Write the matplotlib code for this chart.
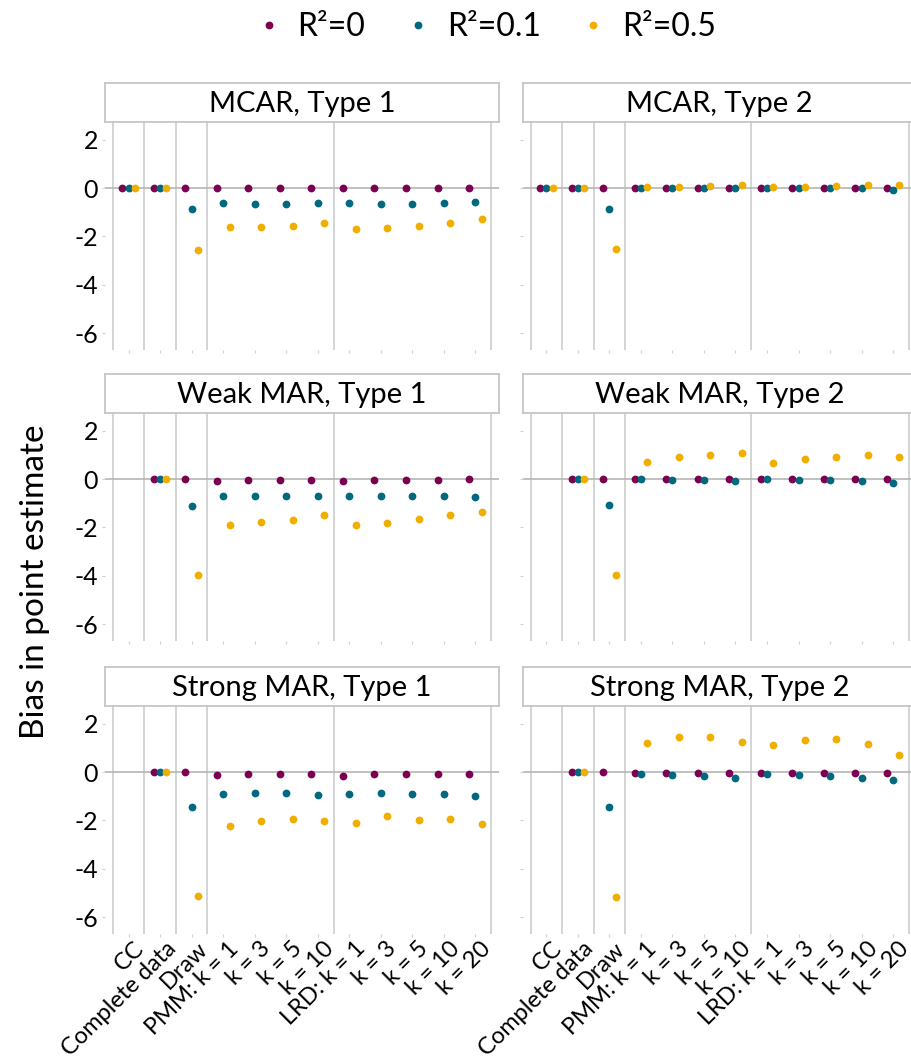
import numpy as np
import matplotlib.pyplot as plt
import matplotlib.transforms as mtransforms
from matplotlib.lines import Line2D

plt.rcParams['font.family'] = ['Lato', 'DejaVu Sans']
plt.rcParams['axes.unicode_minus'] = False

methods = ['CC', 'Complete data', 'Draw',
           'PMM: k = 1', 'k = 3', 'k = 5', 'k = 10',
           'LRD: k = 1', 'k = 3', 'k = 5', 'k = 10', 'k = 20']
r2_labels = ['R²=0', 'R²=0.1', 'R²=0.5']
colors = ['#7b0051', '#00687f', '#efae00']
titles = ['MCAR, Type 1', 'MCAR, Type 2',
          'Weak MAR, Type 1', 'Weak MAR, Type 2',
          'Strong MAR, Type 1', 'Strong MAR, Type 2']
nan = np.nan

# bias per method, one list per R^2 level (CC not available under MAR)
mcar1_r0 = [0, 0, 0, 0, 0, 0, 0, 0, 0, 0, 0, 0]
mcar1_r01 = [0, 0, -0.87, -0.63, -0.65, -0.65, -0.62, -0.62, -0.65, -0.65, -0.62, -0.59]
mcar1_r05 = [0, 0, -2.55, -1.63, -1.63, -1.56, -1.43, -1.69, -1.64, -1.57, -1.43, -1.29]

mcar2_r0 = [0, 0, 0, 0, 0, 0, 0, 0, 0, 0, 0, 0]
mcar2_r01 = [0, 0, -0.85, 0, 0, 0, -0.01, 0, 0, 0, -0.01, -0.07]
mcar2_r05 = [0, 0, -2.53, 0.03, 0.06, 0.08, 0.12, 0.04, 0.06, 0.08, 0.11, 0.12]

weak1_r0 = [nan, 0, 0, -0.08, -0.06, -0.06, -0.03, -0.08, -0.06, -0.04, -0.03, -0.01]
weak1_r01 = [nan, 0, -1.10, -0.72, -0.72, -0.72, -0.72, -0.69, -0.72, -0.72, -0.72, -0.73]
weak1_r05 = [nan, 0, -3.99, -1.92, -1.78, -1.69, -1.47, -1.92, -1.82, -1.67, -1.50, -1.36]

weak2_r0 = [nan, 0, 0, 0, 0, 0, -0.01, 0, 0, 0, -0.01, -0.01]
weak2_r01 = [nan, 0, -1.09, -0.01, -0.03, -0.06, -0.10, -0.01, -0.03, -0.06, -0.10, -0.15]
weak2_r05 = [nan, 0, -3.97, 0.72, 0.90, 0.99, 1.06, 0.65, 0.84, 0.92, 0.98, 0.90]

strong1_r0 = [nan, 0, 0.01, -0.14, -0.10, -0.08, -0.07, -0.15, -0.10, -0.08, -0.07, -0.07]
strong1_r01 = [nan, 0, -1.43, -0.92, -0.87, -0.87, -0.94, -0.90, -0.87, -0.90, -0.92, -0.98]
strong1_r05 = [nan, 0, -5.14, -2.24, -2.01, -1.93, -2.03, -2.11, -1.81, -1.97, -1.96, -2.13]

strong2_r0 = [nan, 0, 0.01, -0.03, -0.03, -0.03, -0.04, -0.03, -0.03, -0.04, -0.04, -0.04]
strong2_r01 = [nan, 0, -1.43, -0.10, -0.12, -0.18, -0.25, -0.10, -0.12, -0.18, -0.25, -0.34]
strong2_r05 = [nan, 0, -5.19, 1.21, 1.43, 1.45, 1.25, 1.13, 1.31, 1.35, 1.17, 0.72]

panels = [[mcar1_r0, mcar1_r01, mcar1_r05],
          [mcar2_r0, mcar2_r01, mcar2_r05],
          [weak1_r0, weak1_r01, weak1_r05],
          [weak2_r0, weak2_r01, weak2_r05],
          [strong1_r0, strong1_r01, strong1_r05],
          [strong2_r0, strong2_r01, strong2_r05]]

W, H = 912, 1063
fig = plt.figure(figsize=(W / 100, H / 100), dpi=100)

# panel layout in pixels
col_left = [105, 522.7]
panel_w = 394
row_top = [122, 413, 706]
panel_h = 228
strip_h = 39

x = np.arange(1, len(methods) + 1)
dodge = [-0.2, 0, 0.2]
group_edges = [0.5, 1.5, 2.5, 3.5, 7.5, 12.5]
label_shift = mtransforms.ScaledTranslation(5 / 100, 3 / 100, fig.dpi_scale_trans)

for i in range(6):
    r, c = divmod(i, 2)
    ax = fig.add_axes([col_left[c] / W, 1 - (row_top[r] + panel_h) / H,
                       panel_w / W, panel_h / H])
    for e in group_edges:
        ax.axvline(e, color='#d4d4d4', lw=1.4, zorder=0)
    ax.axhline(0, color='#b5b5b5', lw=1.2, zorder=1)
    for k in range(3):
        ax.plot(x + dodge[k], panels[i][k], 'o', ms=5.6, color=colors[k],
                mec='none', zorder=3)
    ax.set_xlim(0.25, 12.75)
    ax.set_ylim(-6.7, 2.73)
    ax.set_yticks([-6, -4, -2, 0, 2])
    ax.set_xticks(x)
    for s in ax.spines.values():
        s.set_visible(False)
    ax.tick_params(length=2, color='#d0d0d0', width=0.8, pad=3)
    ax.tick_params(axis='y', labelsize=18)
    ax.tick_params(axis='x', labelsize=17)
    if c == 1:
        ax.tick_params(labelleft=False)
    if r < 2:
        ax.tick_params(labelbottom=False)
    else:
        ax.set_xticklabels(methods, rotation=45, ha='right', va='top',
                           rotation_mode='anchor')
        for lab in ax.get_xticklabels():
            lab.set_transform(lab.get_transform() + label_shift)

    # facet strip
    sax = fig.add_axes([col_left[c] / W, 1 - row_top[r] / H,
                        panel_w / W, strip_h / H])
    sax.set_xticks([])
    sax.set_yticks([])
    for s in sax.spines.values():
        s.set_color('#c6c6c6')
        s.set_linewidth(1.3)
    sax.text(0.5, 0.47, titles[i], ha='center', va='center', fontsize=21,
             transform=sax.transAxes)

fig.text(35 / W, 1 - 582 / H, 'Bias in point estimate', rotation=90,
         ha='center', va='center', fontsize=24)

handles = [Line2D([], [], ls='none', marker='o', ms=5.6, color=col, mec='none')
           for col in colors]
fig.legend(handles, r2_labels, loc='center', bbox_to_anchor=(486 / W, 1 - 27 / H),
           ncol=3, frameon=False, fontsize=23, handlelength=0.8,
           handletextpad=0.5, columnspacing=1.25)

fig.savefig('out.png', dpi=100)
